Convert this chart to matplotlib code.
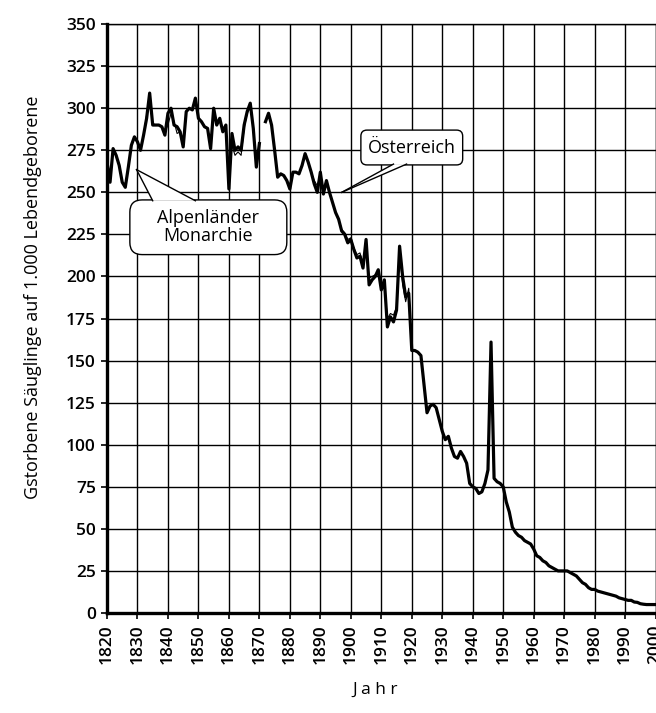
import matplotlib.pyplot as plt
import numpy as np
from matplotlib.patches import FancyBboxPatch, Polygon

# Österreich (dicke Linie), Jahre 1820-2000, Lücke 1871
jahre = np.arange(1820, 2001)
oesterreich = [
    268, 256, 276, 272, 266, 256, 253, 265, 278, 283,   # 1820-1829
    280, 275, 284, 294, 309, 290, 290, 290, 289, 284,   # 1830-1839
    297, 300, 290, 289, 286, 277, 298, 300, 299, 306,   # 1840-1849
    294, 292, 289, 288, 276, 300, 290, 294, 286, 290,   # 1850-1859
    252, 285, 275, 277, 275, 290, 298, 303, 288, 265,   # 1860-1869
    279, np.nan, 292, 297, 290, 275, 259, 261, 260, 257,  # 1870-1879
    252, 262, 262, 261, 266, 273, 268, 262, 255, 250,   # 1880-1889
    262, 249, 257, 250, 244, 238, 234, 227, 225, 220,   # 1890-1899
    222, 216, 211, 212, 205, 222, 195, 198, 200, 204,   # 1900-1909
    192, 198, 170, 176, 173, 180, 218, 200, 188, 190,   # 1910-1919
    156, 156, 155, 153, 136, 119, 123, 124, 122, 115,   # 1920-1929
    108, 103, 105, 98, 93, 92, 96, 93, 89, 77,          # 1930-1939
    75, 74, 71, 72, 77, 85, 161, 80, 78, 77,            # 1940-1949
    75, 66, 60, 51, 48, 46, 45, 43, 42, 41,             # 1950-1959
    38, 34, 33, 31, 30, 28, 27, 26, 25, 25,             # 1960-1969
    25, 25, 24, 23, 22, 20, 18, 17, 15, 14,             # 1970-1979
    14, 13, 12.5, 12, 11.5, 11, 10.5, 10, 9, 8.5,       # 1980-1989
    8, 7.5, 7.5, 6.5, 6.3, 5.5, 5.2, 5, 5, 5,           # 1990-1999
    5,                                                  # 2000
]

# Alpenländer Monarchie (dünne Linie), 1820-1920
jahre_alp = np.arange(1820, 1921)
alpenlaender = [
    268, 256, 276, 272, 266, 256, 253, 265, 278, 283,
    280, 275, 284, 296, 306, 291, 290, 290, 289, 286,
    290, 297, 292, 285, 286, 278, 298, 300, 299, 305,
    294, 292, 289, 288, 277, 299, 290, 294, 286, 289,
    254, 278, 272, 274, 272, 288, 297, 301, 289, 268,
    279, np.nan, 292, 296, 290, 275, 259, 261, 260, 257,
    254, 262, 262, 261, 266, 272, 268, 262, 257, 254,
    260, 252, 257, 250, 244, 238, 234, 228, 226, 222,
    223, 217, 213, 214, 208, 220, 199, 200, 201, 203,
    196, 196, 175, 178, 177, 182, 214, 195, 185, 193,
    158,
]

jahr_ticks = np.arange(1820, 2001, 10)
wert_ticks = np.arange(0, 351, 25)

plt.rcParams['font.family'] = ['Open Sans', 'DejaVu Sans']

fig = plt.figure(figsize=(6.56, 7.13), dpi=100)
ax = fig.add_axes([0.1631, 0.1403, 0.8363, 0.8259])

ax.plot(jahre, oesterreich, color='black', lw=2.3, zorder=3, solid_joinstyle='round')
ax.plot(jahre_alp, alpenlaender, color='black', lw=0.8, zorder=4)

ax.set_xlim(1820, 2000)
ax.set_ylim(0, 350)
ax.set_xticks(jahr_ticks)
ax.set_yticks(wert_ticks)
ax.set_xticklabels([str(j) for j in jahr_ticks], rotation=90, fontsize=12.5,
                   fontweight='semibold')
ax.set_yticklabels([str(w) for w in wert_ticks], fontsize=12.5,
                   fontweight='semibold')
ax.tick_params(axis='both', length=4, width=1.2, pad=4, color='black')
ax.grid(True, color='black', lw=1.0)
ax.set_axisbelow(True)
for s in ['left', 'bottom']:
    ax.spines[s].set_linewidth(2.4)
for s in ['top', 'right']:
    ax.spines[s].set_linewidth(1.0)

fig.text(0.05, 0.583, 'Gstorbene Säuglinge auf 1.000 Lebendgeborene',
         rotation=90, ha='center', va='center', fontsize=13)
fig.text(0.572, 0.032, 'J a h r', ha='center', va='center', fontsize=12.5)


def sprechblase(x0, x1, y0, y1, spitze, basis, text, rad):
    box = FancyBboxPatch((x0, y0), x1 - x0, y1 - y0,
                         boxstyle='round,pad=0,rounding_size=%s' % rad,
                         mutation_aspect=1.81,
                         fc='white', ec='black', lw=1.0, zorder=6)
    ax.add_patch(box)
    by = basis[2]
    keil = Polygon([spitze, (basis[0], by), (basis[1], by)], closed=True,
                   fc='white', ec='none', zorder=7)
    ax.add_patch(keil)
    ax.plot([spitze[0], basis[0]], [spitze[1], by], color='black', lw=1.0, zorder=8)
    ax.plot([spitze[0], basis[1]], [spitze[1], by], color='black', lw=1.0, zorder=8)
    ax.text((x0 + x1) / 2, (y0 + y1) / 2, text, ha='center', va='center',
            fontsize=13, zorder=9, linespacing=1.0)


sprechblase(1827.5, 1879, 213, 245.5, (1829.7, 263.5), (1835, 1849, 245.0),
            'Alpenländer\nMonarchie', 4)
sprechblase(1903.3, 1936.7, 266.3, 287, (1897, 250), (1914, 1918.3, 266.8),
            'Österreich', 2)

fig.savefig('out.png', dpi=100)
